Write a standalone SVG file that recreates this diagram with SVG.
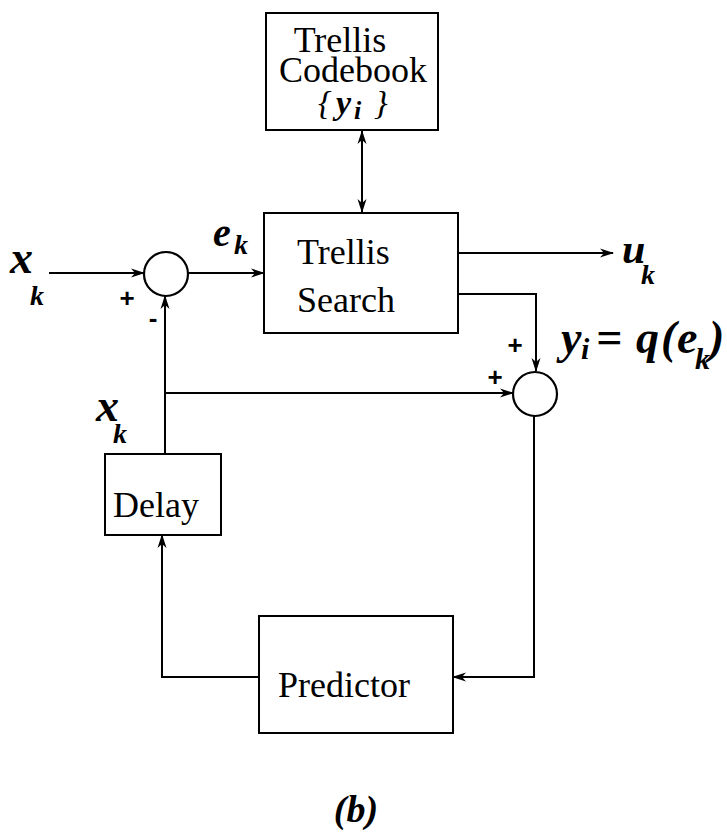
<svg xmlns="http://www.w3.org/2000/svg" width="727" height="838" viewBox="0 0 727 838">
  <style>
    .box { fill: #fff; stroke: #000; stroke-width: 2; }
    .sum { fill: #fff; stroke: #000; stroke-width: 2.2; }
    .wire { fill: none; stroke: #000; stroke-width: 2; }
    .lbl { font-family: "Liberation Serif", "Times New Roman", serif; font-size: 36px; fill: #000; }
    .var { font-family: "Liberation Serif", "Times New Roman", serif; font-style: italic; font-weight: bold; fill: #000; }
    .sign { font-family: "Liberation Sans", Arial, sans-serif; font-weight: bold; font-size: 26px; fill: #000; }
  </style>
  <defs>
    <marker id="arrow" viewBox="0 0 14 10" refX="13" refY="5" markerWidth="14" markerHeight="10" markerUnits="userSpaceOnUse" orient="auto-start-reverse">
      <path d="M0,0.5 L14,5 L0,9.5 L4,5 Z" fill="#000"/>
    </marker>
  </defs>

  <rect width="727" height="838" fill="#fff"/>

  <!-- connectors -->
  <g id="connectors">
    <line class="wire" x1="49" y1="273" x2="144" y2="273" marker-end="url(#arrow)"/>
    <line class="wire" x1="188" y1="273" x2="264" y2="273" marker-end="url(#arrow)"/>
    <line class="wire" x1="458" y1="253" x2="613" y2="253" marker-end="url(#arrow)"/>
    <polyline class="wire" points="458,294 536,294 536,371" marker-end="url(#arrow)"/>
    <line class="wire" x1="362" y1="131" x2="362" y2="212" marker-start="url(#arrow)" marker-end="url(#arrow)"/>
    <line class="wire" x1="165" y1="454" x2="165" y2="296" marker-end="url(#arrow)"/>
    <line class="wire" x1="165" y1="393" x2="513" y2="393" marker-end="url(#arrow)"/>
    <polyline class="wire" points="534,416 534,677 453,677" marker-end="url(#arrow)"/>
    <polyline class="wire" points="259,677 162,677 162,535" marker-end="url(#arrow)"/>
  </g>

  <!-- trellis codebook -->
  <g id="codebook">
    <rect class="box" x="266" y="13" width="172" height="117"/>
    <text class="lbl" x="340" y="52" text-anchor="middle">Trellis</text>
    <text class="lbl" x="353" y="82" text-anchor="middle">Codebook</text>
    <text class="var" y="114" font-size="34"><tspan x="318" font-weight="normal">{</tspan><tspan x="336">y</tspan><tspan x="354" font-size="26" dy="5">i</tspan><tspan x="374" dy="-5" font-weight="normal">}</tspan></text>
  </g>

  <!-- trellis search -->
  <g id="search">
    <rect class="box" x="264" y="213" width="194" height="120"/>
    <text class="lbl" x="297" y="264">Trellis</text>
    <text class="lbl" x="297" y="312">Search</text>
  </g>

  <!-- subtractor -->
  <g id="sum1">
    <circle class="sum" cx="166" cy="274" r="22"/>
    <text class="sign" x="127" y="307" text-anchor="middle">+</text>
    <text class="sign" x="153" y="327" text-anchor="middle">-</text>
  </g>

  <!-- adder -->
  <g id="sum2">
    <circle class="sum" cx="535" cy="394" r="22"/>
    <text class="sign" x="515" y="354" text-anchor="middle">+</text>
    <text class="sign" x="495" y="386" text-anchor="middle">+</text>
  </g>

  <!-- delay -->
  <g id="delay">
    <rect class="box" x="105" y="454" width="116" height="81"/>
    <text class="lbl" x="113" y="517">Delay</text>
  </g>

  <!-- predictor -->
  <g id="predictor">
    <rect class="box" x="259" y="616" width="194" height="117"/>
    <text class="lbl" x="278" y="697">Predictor</text>
  </g>

  <!-- signal labels -->
  <g id="labels">
    <text class="var" x="10" y="273" font-size="46">x</text>
    <text class="var" x="30" y="305" font-size="28">k</text>
    <text class="var" x="213" y="246" font-size="40">e</text>
    <text class="var" x="234" y="254" font-size="28">k</text>
    <text class="var" x="96" y="421" font-size="46">x</text>
    <text class="var" x="113" y="443" font-size="28">k</text>
    <text class="var" x="622" y="263" font-size="42">u</text>
    <text class="var" x="641" y="284" font-size="28">k</text>
    <text class="var" font-size="46" y="353"><tspan x="561">y</tspan><tspan x="581" font-size="30" dy="6">i</tspan><tspan x="596" dy="-6">=</tspan><tspan x="636">q</tspan><tspan x="661">(</tspan><tspan x="677">e</tspan><tspan x="695" font-size="30" dy="16">k</tspan><tspan x="709" dy="-16">)</tspan></text>
    <text class="var" x="356" y="822" font-size="38" text-anchor="middle">(b)</text>
  </g>
</svg>
